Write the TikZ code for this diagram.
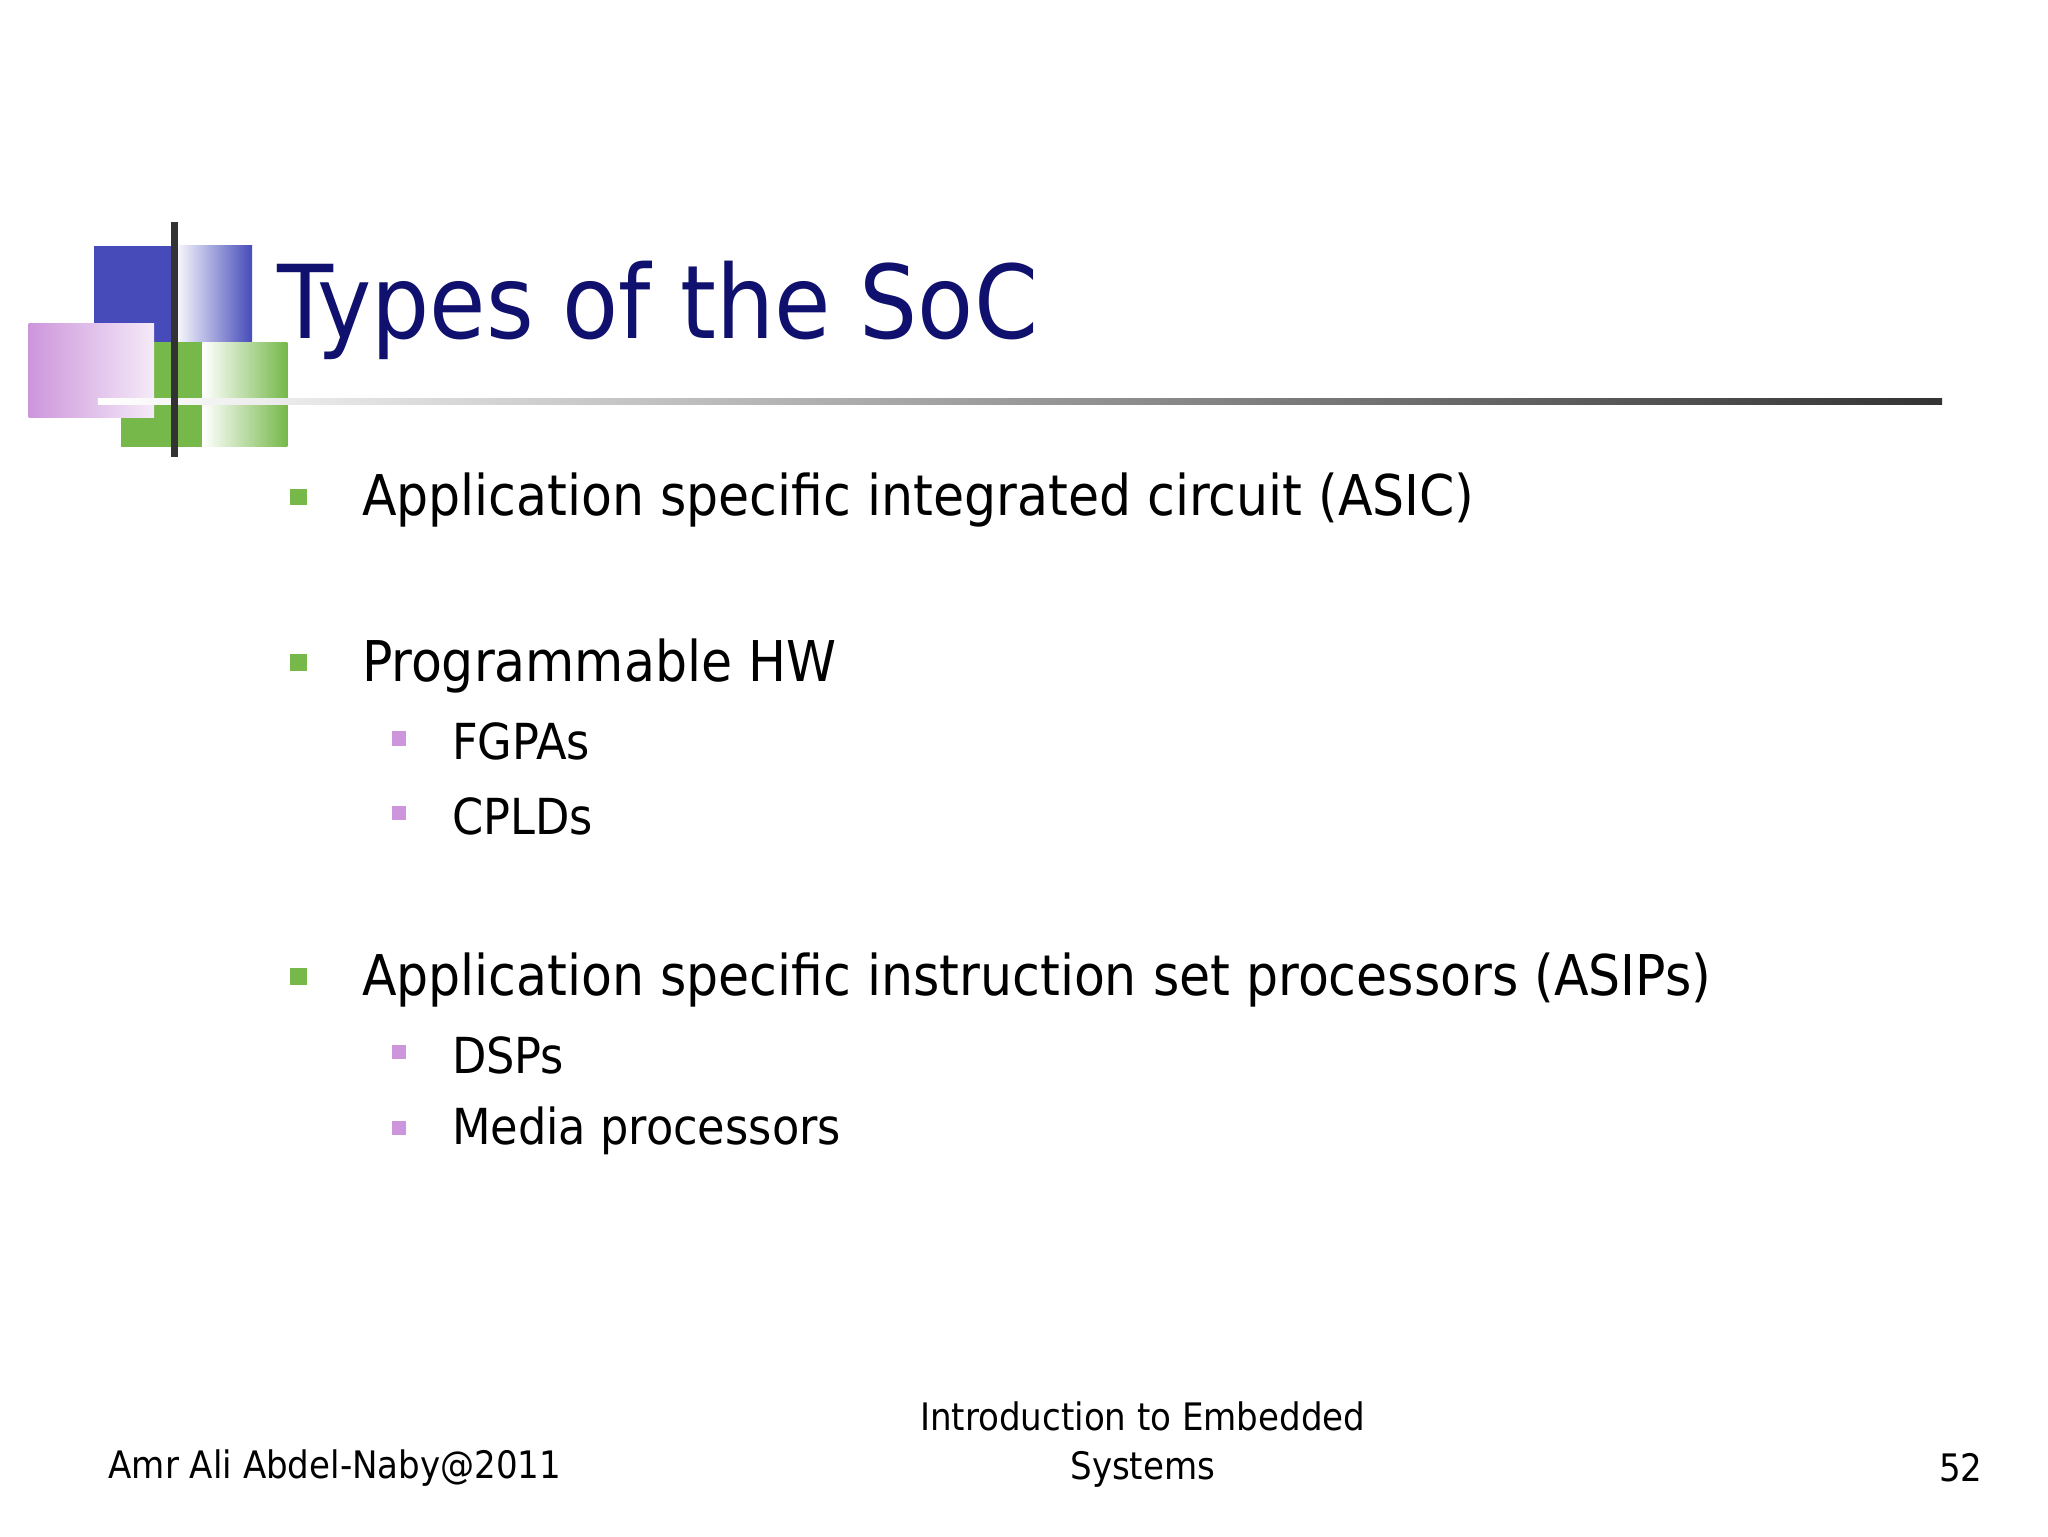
\documentclass[tikz,border=0pt]{standalone}
\usepackage{fontspec}
\setmainfont{DejaVu Sans Condensed}
\begin{document}
\begin{tikzpicture}[x=1pt,y=-1pt,
  big/.style={anchor=west,inner sep=0pt,font=\fontsize{43}{43}\selectfont},
  small/.style={anchor=west,inner sep=0pt,font=\fontsize{38}{38}\selectfont}]
\definecolor{tblue}{RGB}{16,16,110}
\definecolor{sqblue}{RGB}{70,75,185}
\definecolor{sqgreen}{RGB}{118,184,74}
\definecolor{sqpink}{RGB}{205,150,220}
\useasboundingbox[fill=white] (0,0) rectangle (1568,1176);
% decoration
\fill[sqblue] (72,188) rectangle (133,262);
\shade[left color=white,right color=sqblue] (133,188) rectangle (193,262);
\fill[sqgreen] (93,262) rectangle (155,342);
\shade[left color=white,right color=sqgreen] (155,262) rectangle (220,342);
\shade[shading angle=45,left color=sqpink,right color=sqpink!20] (22,248) rectangle (118,320);
\shade[left color=white,right color=black!80] (75,305) rectangle (1487,310);
\fill[black!80] (131,170) rectangle (136,350);
\node[anchor=west,inner sep=0pt,text=tblue,font=\fontsize{78}{78}\selectfont] (title) at (212,238) {Types of the SoC};
% bullets
\foreach \y in {383,510,750}{\fill[sqgreen] (222,\y-9) rectangle (235,\y+4);}
\foreach \y in {568,625,808,866}{\fill[sqpink] (300,\y-8) rectangle (311,\y+3);}
\node[big] (t1) at (277,383) {Application specific integrated circuit (ASIC)};
\node[big] (t2) at (277,510) {Programmable HW};
\node[small] (t3) at (346,568) {FGPAs};
\node[small] (t4) at (346,625) {CPLDs};
\node[big] (t5) at (277,750) {Application specific instruction set processors (ASIPs)};
\node[small] (t6) at (346,808) {DSPs};
\node[small] (t7) at (346,866) {Media processors};
\node[anchor=west,inner sep=0pt,font=\fontsize{29}{29}\selectfont] (f1) at (83,1124) {Amr Ali Abdel-Naby@2011};
\node[align=center,inner sep=0pt,font=\fontsize{29}{37}\selectfont] (f2) at (875,1106) {Introduction to Embedded\\Systems};
\node[anchor=east,inner sep=0pt,font=\fontsize{29}{29}\selectfont] (f3) at (1518,1124) {52};
\end{tikzpicture}
\end{document}
